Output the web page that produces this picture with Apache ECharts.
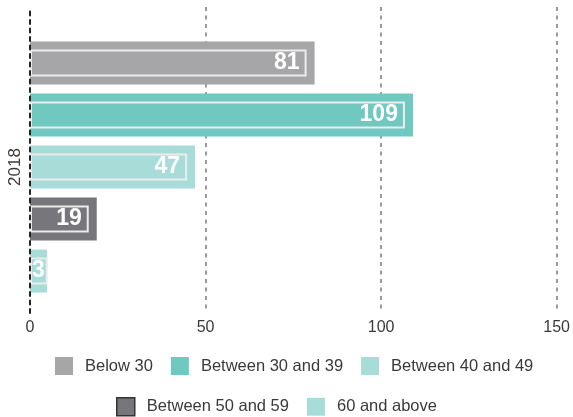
<!DOCTYPE html>
<html>
<head>
<meta charset="utf-8">
<script src="https://cdn.jsdelivr.net/npm/echarts@6/dist/echarts.min.js"></script>
<style>
  html, body { margin: 0; padding: 0; background: #fff; }
  #chart { width: 573px; height: 417px; }
</style>
</head>
<body>
<div id="chart"></div>
<script>
// Age groups for 2018
const years = ['2018'];
const groupNames = ['Below 30', 'Between 30 and 39', 'Between 40 and 49', 'Between 50 and 59', '60 and above'];
const groupValues = [81, 109, 47, 19, 3];
const groupColors = ['#a6a6a9', '#6fc9c1', '#a8dcd9', '#77777b', '#a8dcd9'];
const xMin = 0, xMax = 150, xStep = 50;

const FONT = '"Liberation Sans", Arial, Helvetica, sans-serif';
const LABEL_FONT_SIZE = 23;
const LABEL_INSET = 9;      // gap between label box and bar end
const LABEL_PAD = 6;
const BAR_MIN = 17;

const chart = echarts.init(document.getElementById('chart'), null, { renderer: 'canvas' });

const measureCtx = document.createElement('canvas').getContext('2d');
measureCtx.font = 'bold ' + LABEL_FONT_SIZE + 'px ' + FONT;
function textWidth(s) { return measureCtx.measureText(s).width; }

function labelOption(value, barLen) {
  const base = {
    show: true,
    color: '#fff',
    fontFamily: FONT,
    fontWeight: 'bold',
    fontSize: LABEL_FONT_SIZE,
    lineHeight: LABEL_FONT_SIZE,
    borderColor: '#ececec',
    borderWidth: 2
  };
  const tw = textWidth(String(value));
  const boxW = barLen == null ? null : barLen - LABEL_INSET - 1;
  if (boxW != null && boxW >= tw + 2 * LABEL_PAD) {
    return Object.assign(base, {
      position: 'insideRight',
      distance: LABEL_INSET,
      padding: [1, LABEL_PAD, 1, LABEL_PAD],
      width: boxW - 2 * LABEL_PAD,
      align: 'right'
    });
  }
  return Object.assign(base, {
    position: 'insideLeft',
    distance: 1,
    padding: [1, 2, 1, 1]
  });
}

function buildSeries(lengths) {
  return groupNames.map((name, i) => ({
    name: name,
    type: 'bar',
    xAxisIndex: 1,
    yAxisIndex: 1,
    data: [groupValues[i]],
    barWidth: 43,
    barGap: '21%',
    barMinHeight: BAR_MIN,
    itemStyle: { color: groupColors[i] },
    label: labelOption(groupValues[i], lengths ? lengths[i] : null),
    z: 2
  }));
}

const legendText = { fontFamily: FONT, fontSize: 16.5, color: '#3a3a3a', padding: [0, 0, 0, 7] };

const option = {
  animation: false,
  backgroundColor: '#fff',
  grid: [
    { left: 30, right: 16, top: 7, bottom: 104 },
    { left: 30, right: 16, top: 21, bottom: 104 }
  ],
  legend: [
    {
      data: groupNames.slice(0, 3),
      left: 55, top: 357, padding: 0,
      icon: 'rect', itemWidth: 18, itemHeight: 18, itemGap: 18,
      textStyle: legendText
    },
    {
      data: [
        { name: groupNames[3], itemStyle: { borderColor: '#333', borderWidth: 1.5 } },
        groupNames[4]
      ],
      left: 116, top: 397, padding: 0,
      icon: 'rect', itemWidth: 18, itemHeight: 18, itemGap: 18,
      textStyle: legendText
    }
  ],
  xAxis: [
    {
      gridIndex: 0, type: 'value', min: xMin, max: xMax, interval: xStep,
      axisLine: { show: false }, axisTick: { show: false },
      axisLabel: { fontFamily: FONT, fontSize: 16, color: '#3a3a3a', margin: 7 },
      splitLine: {
        show: true, showMinLine: false,
        lineStyle: { color: '#999999', width: 2, type: [4, 4.5] }
      }
    },
    {
      gridIndex: 1, type: 'value', min: xMin, max: xMax, interval: xStep, show: false
    }
  ],
  yAxis: [
    {
      gridIndex: 0, type: 'value', z: 5,
      axisLine: { show: true, onZero: false, lineStyle: { color: '#222', width: 2, type: [4, 4.5] } },
      axisTick: { show: false }, axisLabel: { show: false }, splitLine: { show: false }
    },
    {
      gridIndex: 1, type: 'category', data: years, inverse: true,
      axisLine: { show: false }, axisTick: { show: false },
      axisLabel: { rotate: 90, fontFamily: FONT, fontSize: 17, color: '#3a3a3a', margin: 6 }
    }
  ],
  series: buildSeries(null)
};

chart.setOption(option);

// Size each label box to its bar's drawn length
const zeroPx = chart.convertToPixel({ xAxisIndex: 1 }, 0);
const lengths = groupValues.map(v => Math.max(chart.convertToPixel({ xAxisIndex: 1 }, v) - zeroPx, BAR_MIN));
chart.setOption({ series: buildSeries(lengths) });
</script>
</body>
</html>
